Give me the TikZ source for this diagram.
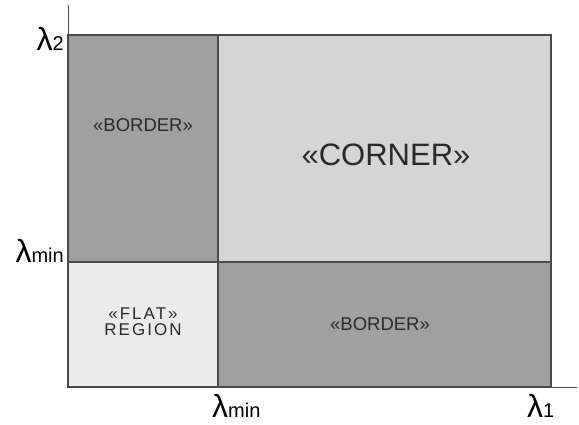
\documentclass[tikz,border=0pt]{standalone}
\usepackage{fontspec}
\setmainfont{Liberation Sans}
\newfontfamily\spacedfont[LetterSpace=12]{Liberation Sans}
\definecolor{darkreg}{HTML}{A0A0A0}
\definecolor{lightreg}{HTML}{D5D5D5}
\definecolor{flatreg}{HTML}{EBEBEB}
\definecolor{edgecol}{HTML}{4A4A4A}
\definecolor{txtcol}{HTML}{2A2A2A}
\begin{document}
\begin{tikzpicture}[x=1pt,y=-1pt,
  region/.style={draw=edgecol,line width=1.2pt},
  axisline/.style={draw=edgecol,line width=1pt},
  lab/.style={inner sep=0pt,text=txtcol},
  ax/.style={inner sep=0pt,text=black}]
\useasboundingbox (0,0) rectangle (579,424);
% regions
\path[region,fill=darkreg] (68,35) rectangle (218,262);
\path[region,fill=lightreg] (218,35) rectangle (551,262);
\path[region,fill=flatreg] (68,262) rectangle (218,387);
\path[region,fill=darkreg] (218,262) rectangle (551,387);
% axes
\coordinate (o) at (68,387);
\coordinate (ytop) at (68,5);
\coordinate (xend) at (577,387);
\draw[axisline] (ytop) -- (o) -- (xend);
% region labels
\node[lab,font=\fontsize{18.5}{20}\selectfont] (b1) at (143,125) {«BORDER»};
\node[lab,font=\fontsize{31}{33}\selectfont] (c) at (386,155) {«CORNER»};
\node[lab,font=\fontsize{18.5}{20}\selectfont] (b2) at (380,324) {«BORDER»};
\node[lab,font=\fontsize{17}{17}\selectfont,align=center] (f) at (143,322) {\spacedfont «FLAT»\\[-1pt]\spacedfont REGION};
% axis labels
\node[ax,anchor=base east] (l2) at (64,50) {\fontsize{32}{34}\selectfont λ\fontsize{20}{22}\selectfont 2};
\node[ax,anchor=base east] (lm) at (64,262) {\fontsize{32}{34}\selectfont λ\fontsize{20}{22}\selectfont min};
\node[ax,anchor=base west] (lmx) at (212,417) {\fontsize{32}{34}\selectfont λ\fontsize{20}{22}\selectfont min};
\node[ax,anchor=base west] (l1) at (527,417) {\fontsize{32}{34}\selectfont λ\fontsize{20}{22}\selectfont 1};
\end{tikzpicture}
\end{document}
